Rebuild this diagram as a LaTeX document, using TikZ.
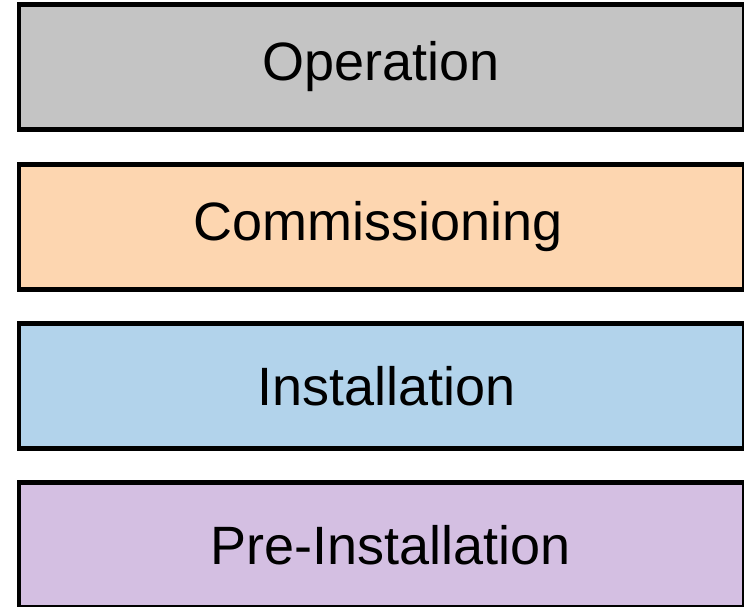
\documentclass[tikz,border=0pt]{standalone}
\usepackage{fontspec}
\setmainfont{Liberation Sans}
\definecolor{opgray}{HTML}{C4C4C4}
\definecolor{compeach}{HTML}{FDD6B0}
\definecolor{instblue}{HTML}{B2D3EB}
\definecolor{prepurple}{HTML}{D4BFE2}
% shift a label's centre to the right by #1 inside its box
\newcommand{\nudge}[2]{\hspace*{#1}\hspace*{#1}#2}
\begin{document}
\begin{tikzpicture}[x=1pt,y=-1pt,
  phase/.style={draw=black, line width=4.5pt, minimum width=725pt, minimum height=125pt,
    inner sep=0pt, anchor=north west, font=\fontsize{54}{60}\selectfont}]
\useasboundingbox (0,0) rectangle (744,606);
\node[phase, fill=opgray]    (op)   at (16.5,2)   {Operation};
\node[phase, fill=compeach]  (comm) at (16.5,162) {\nudge{-3pt}{Commissioning}};
\node[phase, fill=instblue]  (inst) at (16.5,321) {\nudge{5pt}{Installation}};
\node[phase, fill=prepurple] (pre)  at (16.5,480) {\nudge{9pt}{Pre-Installation}};
\end{tikzpicture}
\end{document}
